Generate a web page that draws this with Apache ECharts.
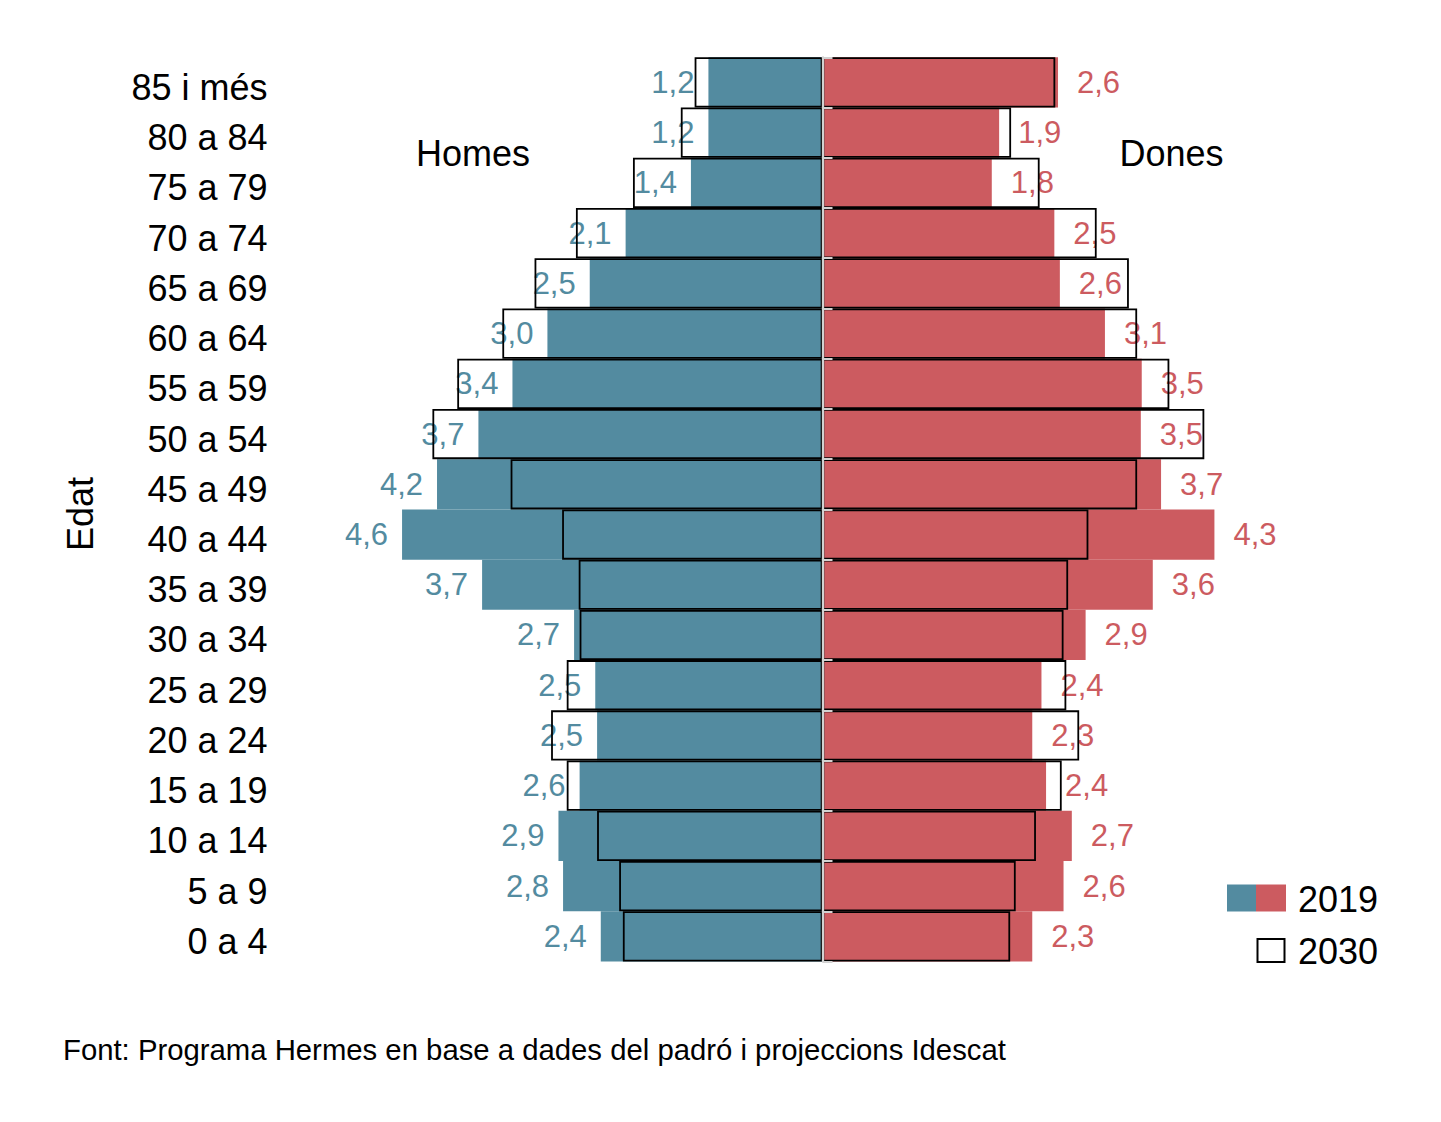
<!DOCTYPE html>
<html>
<head>
<meta charset="utf-8">
<script src="https://cdn.jsdelivr.net/npm/echarts@6/dist/echarts.min.js"></script>
<style>
  html, body { margin: 0; padding: 0; background: #ffffff; }
  #chart { width: 1441px; height: 1122px; }
</style>
</head>
<body>
<div id="chart"></div>
<script>
(function() {
  var blue = '#538ba0';
  var red = '#cc5b60';
  var ink = '#000000';
  var font = "'Liberation Sans', Arial, Helvetica, sans-serif";

  // age groups, top to bottom
  var ages = ['85 i més', '80 a 84', '75 a 79', '70 a 74', '65 a 69', '60 a 64',
    '55 a 59', '50 a 54', '45 a 49', '40 a 44', '35 a 39', '30 a 34',
    '25 a 29', '20 a 24', '15 a 19', '10 a 14', '5 a 9', '0 a 4'];

  // % of population
  var homes2019 = [1.24, 1.24, 1.43, 2.14, 2.53, 2.99, 3.37, 3.74, 4.19, 4.57,
    3.70, 2.70, 2.47, 2.45, 2.64, 2.87, 2.82, 2.41];
  var dones2019 = [2.56, 1.92, 1.84, 2.52, 2.58, 3.07, 3.47, 3.46, 3.68, 4.26,
    3.59, 2.86, 2.38, 2.28, 2.43, 2.71, 2.62, 2.28];
  var homes2030 = [1.39, 1.54, 2.06, 2.68, 3.13, 3.48, 3.97, 4.24, 3.39, 2.83,
    2.65, 2.64, 2.78, 2.95, 2.78, 2.45, 2.21, 2.17];
  var dones2030 = [2.53, 2.05, 2.36, 2.98, 3.33, 3.42, 3.77, 4.15, 3.42, 2.89,
    2.67, 2.62, 2.65, 2.79, 2.60, 2.32, 2.10, 2.04];

  function neg(arr) { return arr.map(function(v) { return -v; }); }
  function fmt(p) { return Math.abs(p.value).toFixed(1).replace('.', ','); }

  var chart = echarts.init(document.getElementById('chart'), null, { renderer: 'svg' });
  chart.setOption({
    animation: false,
    backgroundColor: '#ffffff',
    textStyle: { fontFamily: font },
    grid: { left: 362.5, right: 158.5, top: 57.3, bottom: 160.5 },
    xAxis: {
      type: 'value',
      min: -5,
      max: 5,
      show: false
    },
    yAxis: [
      {
        type: 'category',
        data: ages,
        inverse: true,
        axisLine: { show: false },
        axisTick: { show: false },
        axisLabel: {
          margin: 95,
          formatter: function(v) { return '{a|' + v + '}'; },
          rich: { a: { color: ink, fontSize: 36, fontFamily: font, padding: [10, 0, 0, 0] } }
        }
      },
      {
        // centre line with its little ticks
        type: 'category',
        data: ages,
        inverse: true,
        position: 'left',
        offset: -460,
        z: 5,
        axisLine: { show: true, lineStyle: { color: '#d2d2d2', width: 2.3 } },
        axisTick: { show: true, inside: true, length: 10, interval: 0,
          lineStyle: { color: '#d2d2d2', width: 2 } },
        axisLabel: { show: false }
      }
    ],
    series: [
      {
        name: 'Homes 2019',
        type: 'bar',
        data: neg(homes2019),
        barGap: '-100%',
        barCategoryGap: '0%',
        itemStyle: { color: blue },
        label: { show: true, position: 'left', distance: 14, formatter: fmt,
          color: blue, fontSize: 31, fontFamily: font }
      },
      {
        name: 'Dones 2019',
        type: 'bar',
        data: dones2019,
        barGap: '-100%',
        barCategoryGap: '0%',
        itemStyle: { color: red },
        label: { show: true, position: 'right', distance: 19, formatter: fmt,
          color: red, fontSize: 31, fontFamily: font }
      },
      {
        name: 'Homes 2030',
        type: 'bar',
        data: neg(homes2030),
        barGap: '-100%',
        barCategoryGap: '0%',
        z: 3,
        itemStyle: { color: 'rgba(0,0,0,0)', borderColor: '#000', borderWidth: 1.8 }
      },
      {
        name: 'Dones 2030',
        type: 'bar',
        data: dones2030,
        barGap: '-100%',
        barCategoryGap: '0%',
        z: 3,
        itemStyle: { color: 'rgba(0,0,0,0)', borderColor: '#000', borderWidth: 1.8 }
      }
    ],
    graphic: [
      { type: 'text', x: 80, y: 514, rotation: Math.PI / 2,
        style: { text: 'Edat', fontSize: 36, fontFamily: font, fill: ink,
          textAlign: 'center', textVerticalAlign: 'middle' } },
      { type: 'text', x: 473, y: 153,
        style: { text: 'Homes', fontSize: 36, fontFamily: font, fill: ink,
          textAlign: 'center', textVerticalAlign: 'middle' } },
      { type: 'text', x: 1171.5, y: 153,
        style: { text: 'Dones', fontSize: 36, fontFamily: font, fill: ink,
          textAlign: 'center', textVerticalAlign: 'middle' } },
      // legend
      { type: 'rect', shape: { x: 1227, y: 884.5, width: 29, height: 27 }, style: { fill: blue } },
      { type: 'rect', shape: { x: 1256, y: 884.5, width: 30, height: 27 }, style: { fill: red } },
      { type: 'text', x: 1298, y: 899,
        style: { text: '2019', fontSize: 36, fontFamily: font, fill: ink,
          textAlign: 'left', textVerticalAlign: 'middle' } },
      { type: 'rect', shape: { x: 1257.5, y: 939, width: 27, height: 23 },
        style: { fill: '#fff', stroke: '#000', lineWidth: 2 } },
      { type: 'text', x: 1298, y: 951,
        style: { text: '2030', fontSize: 36, fontFamily: font, fill: ink,
          textAlign: 'left', textVerticalAlign: 'middle' } },
      // source
      { type: 'text', x: 63, y: 1049,
        style: { text: 'Font: Programa Hermes en base a dades del padró i projeccions Idescat',
          fontSize: 29.3, fontFamily: font, fill: ink,
          textAlign: 'left', textVerticalAlign: 'middle' } }
    ]
  });
  window.addEventListener('resize', function() { chart.resize(); });
})();
</script>
</body>
</html>
